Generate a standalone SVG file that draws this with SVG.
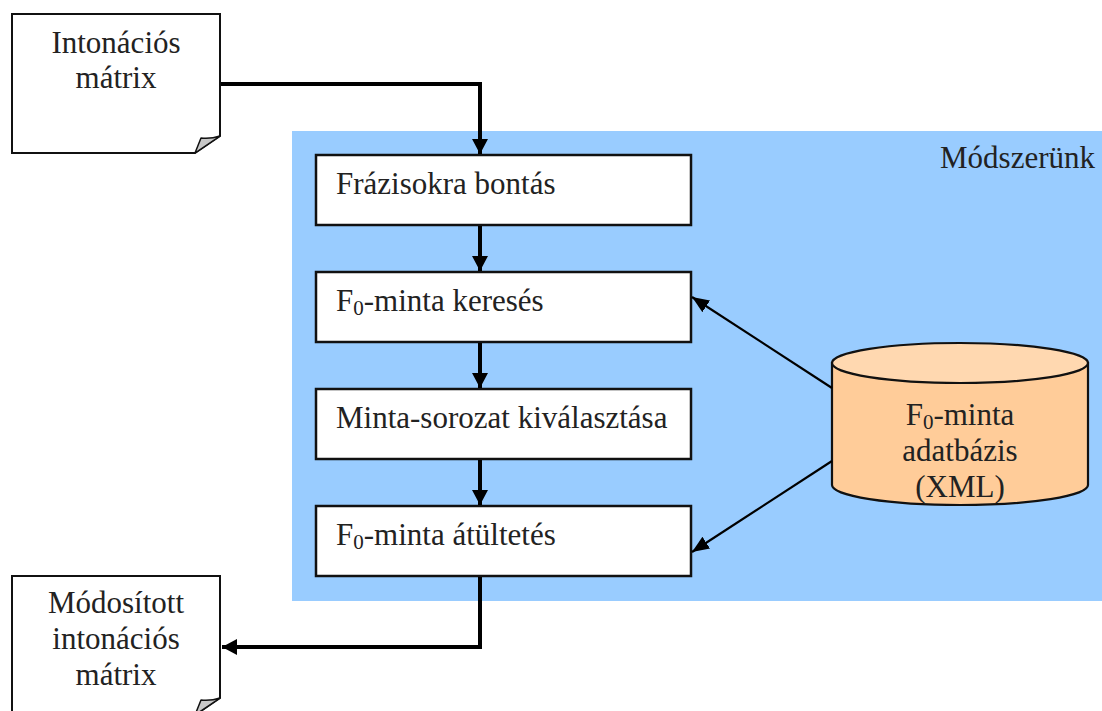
<svg xmlns="http://www.w3.org/2000/svg" width="1102" height="711" viewBox="0 0 1102 711">
  <style>
    .lbl { font-family: "Liberation Serif", "Times New Roman", serif; font-size: 31px; fill: #222; }
    .mid { text-anchor: middle; }
    .sub { font-size: 21px; }
    .box { fill: #fff; stroke: #111; stroke-width: 2.5; }
    .doc { fill: #fff; stroke: #111; stroke-width: 2; }
    .curl { fill: #c8c8c8; stroke: #111; stroke-width: 1.5; stroke-linejoin: round; }
    .flow { fill: none; stroke: #000; stroke-width: 4; }
    .feed { fill: none; stroke: #000; stroke-width: 2.2; }
    .cyl { fill: #ffcc99; stroke: #111; stroke-width: 2.2; }
    .cyltop { fill: #ffd8b0; stroke: #111; stroke-width: 2.2; }
  </style>
  <defs>
    <marker id="headThick" markerUnits="userSpaceOnUse" markerWidth="16" markerHeight="16" viewBox="0 0 16 16" refX="15" refY="8" orient="auto">
      <path d="M0,0 L15,8 L0,16 Z" fill="#000"/>
    </marker>
    <marker id="headThin" markerUnits="userSpaceOnUse" markerWidth="18" markerHeight="16" viewBox="0 0 18 16" refX="17" refY="8" orient="auto">
      <path d="M0,1 L17,8 L0,15 Z" fill="#000"/>
    </marker>
  </defs>

  <!-- method area -->
  <g id="methodArea">
    <rect x="292" y="131" width="810" height="470" fill="#99ccff"/>
    <text class="lbl" x="940" y="168">Módszerünk</text>
  </g>

  <!-- input document -->
  <g id="inputDoc">
    <path class="doc" d="M12,14 H220 V136 L195,153 H12 Z"/>
    <path class="curl" d="M220,136 L195,153 L201,138 Q211,139 220,136 Z"/>
    <text class="lbl mid" x="116" y="53">Intonációs</text>
    <text class="lbl mid" x="116" y="88">mátrix</text>
  </g>

  <!-- output document -->
  <g id="outputDoc">
    <path class="doc" d="M12,576 H220 V698 L195,715 H12 Z"/>
    <path class="curl" d="M220,698 L195,715 L201,700 Q211,701 220,698 Z"/>
    <text class="lbl mid" x="116" y="613">Módosított</text>
    <text class="lbl mid" x="116" y="649">intonációs</text>
    <text class="lbl mid" x="116" y="685">mátrix</text>
  </g>

  <!-- processing steps -->
  <g id="stepSplit">
    <rect class="box" x="316" y="155" width="375" height="70"/>
    <text class="lbl" x="336" y="194">Frázisokra bontás</text>
  </g>
  <g id="stepSearch">
    <rect class="box" x="316" y="272" width="375" height="70"/>
    <text class="lbl" x="336" y="311">F<tspan class="sub" dy="4">0</tspan><tspan dy="-4">-minta keresés</tspan></text>
  </g>
  <g id="stepSelect">
    <rect class="box" x="316" y="389" width="375" height="70"/>
    <text class="lbl" x="336" y="428">Minta-sorozat kiválasztása</text>
  </g>
  <g id="stepTransfer">
    <rect class="box" x="316" y="506" width="375" height="70"/>
    <text class="lbl" x="336" y="545">F<tspan class="sub" dy="4">0</tspan><tspan dy="-4">-minta átültetés</tspan></text>
  </g>

  <!-- pattern database -->
  <g id="patternDb">
    <path class="cyl" d="M832,363 V485 A128,20 0 0 0 1088,485 V363 Z"/>
    <ellipse class="cyltop" cx="960" cy="363" rx="128" ry="20"/>
    <text class="lbl mid" x="960" y="425">F<tspan class="sub" dy="4">0</tspan><tspan dy="-4">-minta</tspan></text>
    <text class="lbl mid" x="960" y="461">adatbázis</text>
    <text class="lbl mid" x="960" y="497">(XML)</text>
  </g>

  <!-- connectors -->
  <g id="connectors">
    <path class="flow" d="M221,84 H480 V154" marker-end="url(#headThick)"/>
    <path class="flow" d="M480,226 V271" marker-end="url(#headThick)"/>
    <path class="flow" d="M480,343 V388" marker-end="url(#headThick)"/>
    <path class="flow" d="M480,460 V505" marker-end="url(#headThick)"/>
    <path class="flow" d="M480,577 V647 H222" marker-end="url(#headThick)"/>
    <path class="feed" d="M832,388 L692,297" marker-end="url(#headThin)"/>
    <path class="feed" d="M832,461 L692,552" marker-end="url(#headThin)"/>
  </g>
</svg>
